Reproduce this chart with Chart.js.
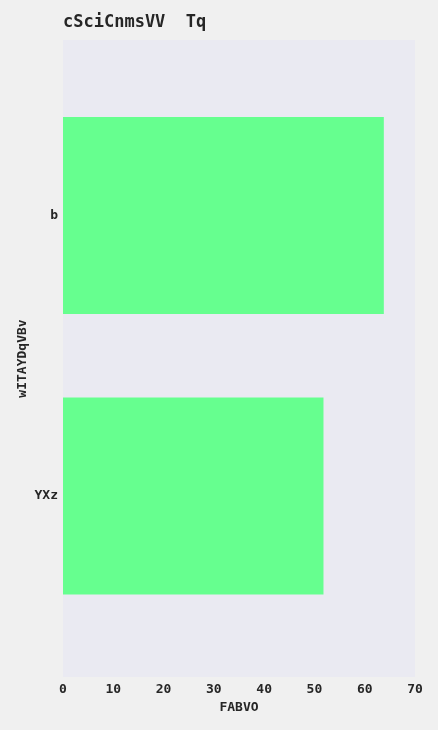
<!DOCTYPE html>
<html>
<head>
<meta charset="utf-8">
<script src="https://cdn.jsdelivr.net/npm/chart.js@4/dist/chart.umd.min.js"></script>
<style>
  html, body { margin: 0; padding: 0; background: #f0f0f0; }
  #wrap { width: 438px; height: 730px; }
</style>
</head>
<body>
<div id="wrap"><canvas id="c" width="438" height="730"></canvas></div>
<script>
const chartTitle = "cSciCnmsVV  Tq";
const xAxisTitle = "FABVO";
const yAxisTitle = "wITAYDqVBv";
const categories = ["b", "YXz"];
const values = [63.8, 51.8];
const xTicks = [0, 10, 20, 30, 40, 50, 60, 70];

const FONT = "'DejaVu Sans Mono', monospace";
const TEXT = "#262626";

const bgPlugin = {
  id: 'bg',
  beforeDraw(chart) {
    const {ctx, chartArea: a} = chart;
    ctx.save();
    ctx.fillStyle = '#f0f0f0';
    ctx.fillRect(0, 0, chart.width, chart.height);
    ctx.fillStyle = '#eaeaf2';
    ctx.fillRect(a.left, a.top, a.right - a.left, a.bottom - a.top);
    ctx.restore();
  },
  afterDraw(chart) {
    const {ctx, chartArea: a} = chart;
    ctx.save();
    ctx.font = "bold 17px " + FONT;
    ctx.fillStyle = TEXT;
    ctx.textAlign = 'left';
    ctx.textBaseline = 'middle';
    ctx.fillText(chartTitle, a.left, 23);
    ctx.restore();
  }
};

new Chart(document.getElementById('c'), {
  type: 'bar',
  data: {
    datasets: [{
      data: categories.map((c, i) => ({x: values[i], y: i})),
      backgroundColor: '#66ff8f',
      borderWidth: 0,
      barPercentage: 0.702,
      categoryPercentage: 1.0
    }]
  },
  options: {
    indexAxis: 'y',
    responsive: false,
    animation: false,
    devicePixelRatio: 1,
    layout: { padding: { left: 0, right: 23, top: 40, bottom: 0 } },
    plugins: { legend: { display: false }, title: { display: false }, tooltip: { enabled: false } },
    scales: {
      x: {
        type: 'linear',
        position: 'bottom',
        offset: false,
        min: 0, max: 70,
        afterBuildTicks(s) { s.ticks = xTicks.map(v => ({value: v})); },
        afterFit(s) { s.height = 53; },
        grid: { display: false, drawTicks: false },
        border: { display: false },
        ticks: { color: TEXT, padding: 5, font: { family: FONT, size: 13, weight: 'bold' } },
        title: { display: true, text: xAxisTitle, color: TEXT, padding: { top: 0, bottom: 15 },
                 font: { family: FONT, size: 13, weight: 'bold' } }
      },
      y: {
        type: 'linear',
        position: 'left',
        offset: false,
        reverse: true,
        min: -0.625, max: 1.645,
        afterBuildTicks(s) { s.ticks = categories.map((c, i) => ({value: i})); },
        afterFit(s) { s.width = 63; },
        grid: { display: false, drawTicks: false, offset: false },
        border: { display: false },
        ticks: { color: TEXT, padding: 5, callback: (v) => categories[v] ?? '',
                 font: { family: FONT, size: 13, weight: 'bold' } },
        title: { display: true, text: yAxisTitle, color: TEXT, padding: { top: 15, bottom: 0 },
                 font: { family: FONT, size: 13, weight: 'bold' } }
      }
    }
  },
  plugins: [bgPlugin]
});
</script>
</body>
</html>
